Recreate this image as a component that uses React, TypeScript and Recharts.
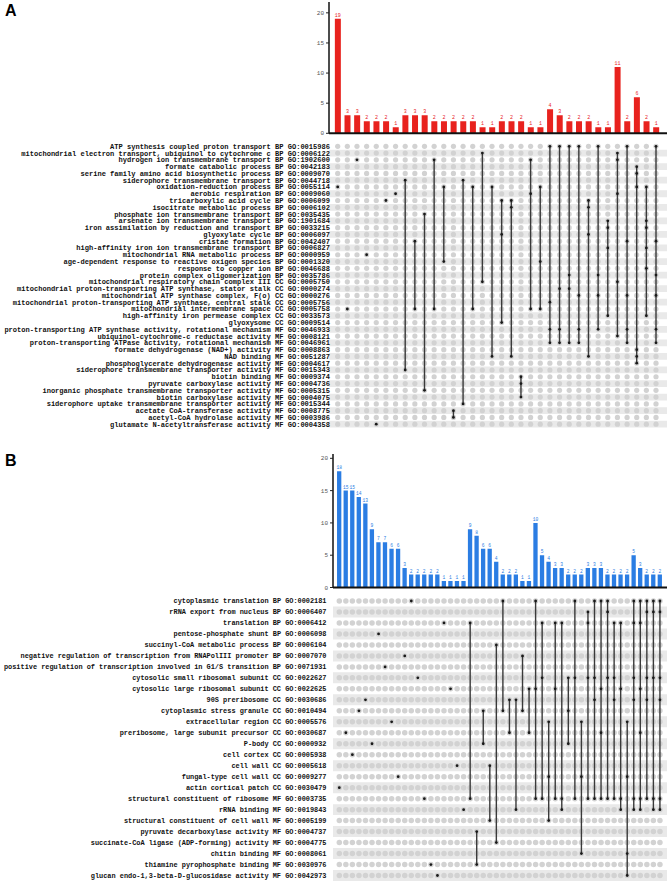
import React from 'react';
import { BarChart, Bar, XAxis, YAxis, ScatterChart, Scatter, ReferenceArea, LabelList } from 'recharts';

// ---------- Panel A ----------
const termsA = [
  'ATP synthesis coupled proton transport BP GO:0015986',
  'mitochondrial electron transport, ubiquinol to cytochrome c BP GO:0006122',
  'hydrogen ion transmembrane transport BP GO:1902600',
  'formate catabolic process BP GO:0042183',
  'serine family amino acid biosynthetic process BP GO:0009070',
  'siderophore transmembrane transport BP GO:0044718',
  'oxidation-reduction process BP GO:0055114',
  'aerobic respiration BP GO:0009060',
  'tricarboxylic acid cycle BP GO:0006099',
  'isocitrate metabolic process BP GO:0006102',
  'phosphate ion transmembrane transport BP GO:0035435',
  'arsenate ion transmembrane transport BP GO:1901684',
  'iron assimilation by reduction and transport BP GO:0033215',
  'glyoxylate cycle BP GO:0006097',
  'cristae formation BP GO:0042407',
  'high-affinity iron ion transmembrane transport BP GO:0006827',
  'mitochondrial RNA metabolic process BP GO:0000959',
  'age-dependent response to reactive oxigen species BP GO:0001320',
  'response to copper ion BP GO:0046688',
  'protein complex oligomerization BP GO:0035786',
  'mitochondrial respiratory chain complex III CC GO:0005750',
  'mitochondrial proton-transporting ATP synthase, stator stalk CC GO:0000274',
  'mitochondrial ATP synthase complex, F(o) CC GO:0000276',
  'mitochondrial proton-transporting ATP synthase, central stalk CC GO:0005756',
  'mitochondrial intermembrane space CC GO:0005758',
  'high-affinity iron permease complex CC GO:0033573',
  'glyoxysome CC GO:0009514',
  'proton-transporting ATP synthase activity, rotational mechanism MF GO:0046933',
  'ubiquinol-cytochrome-c reductase activity MF GO:0008121',
  'proton-transporting ATPase activity, rotational mechanism MF GO:0046961',
  'formate dehydrogenase (NAD+) activity MF GO:0008863',
  'NAD binding MF GO:0051287',
  'phosphoglycerate dehydrogenase activity MF GO:0004617',
  'siderophore transmembrane transporter activity MF GO:0015343',
  'biotin binding MF GO:0009374',
  'pyruvate carboxylase activity MF GO:0004736',
  'inorganic phosphate transmembrane transporter activity MF GO:0005315',
  'biotin carboxylase activity MF GO:0004075',
  'siderophore uptake transmembrane transporter activity MF GO:0015344',
  'acetate CoA-transferase activity MF GO:0008775',
  'acetyl-CoA hydrolase activity MF GO:0003986',
  'glutamate N-acetyltransferase activity MF GO:0004358',
];

const countsA = [19, 3, 3, 2, 2, 2, 1, 3, 3, 3, 2, 2, 2, 2, 2, 1, 1, 2, 2, 2, 1, 1, 4, 3, 2, 2, 2, 1, 1, 11, 2, 6, 2, 1];

const setsA = [
  [7], [25], [3], [17], [42], [9], [8],
  [6, 34], [15, 25], [11, 37], [3, 25], [7, 18], [40, 41], [6, 39], [7, 25], [2, 21], [7, 32],
  [9, 14, 27], [9, 10, 32], [35, 36, 38], [3, 8, 25], [7, 18, 25],
  [1, 24, 28, 30], [1, 22, 28, 30], [1, 20, 22, 30], [1, 23, 28, 30], [9, 10, 14, 32], [1, 20, 23, 28], [12, 13, 16, 26],
  [2, 3, 8, 21, 29], [1, 15, 23, 28, 30],
  [4, 5, 7, 31, 32, 33], [7, 12, 13, 16, 19, 26], [1, 15, 20, 23, 28, 30],
];

// ---------- Panel B ----------
const termsB = [
  'cytoplasmic translation BP GO:0002181',
  'rRNA export from nucleus BP GO:0006407',
  'translation BP GO:0006412',
  'pentose-phosphate shunt BP GO:0006098',
  'succinyl-CoA metabolic process BP GO:0006104',
  'negative regulation of transcription from RNAPolIII promoter BP GO:0007070',
  'positive regulation of transcription involved in G1/S transition BP GO:0071931',
  'cytosolic small ribosomal subunit CC GO:0022627',
  'cytosolic large ribosomal subunit CC GO:0022625',
  '90S preribosome CC GO:0030686',
  'cytoplasmic stress granule CC GO:0010494',
  'extracellular region CC GO:0005576',
  'preribosome, large subunit precursor CC GO:0030687',
  'P-body CC GO:0000932',
  'cell cortex CC GO:0005938',
  'cell wall CC GO:0005618',
  'fungal-type cell wall CC GO:0009277',
  'actin cortical patch CC GO:0030479',
  'structural constituent of ribosome MF GO:0003735',
  'rRNA binding MF GO:0019843',
  'structural constituent of cell wall MF GO:0005199',
  'pyruvate decarboxylase activity MF GO:0004737',
  'succinate-CoA ligase (ADP-forming) activity MF GO:0004775',
  'chitin binding MF GO:0008061',
  'thiamine pyrophosphate binding MF GO:0030976',
  'glucan endo-1,3-beta-D-glucosidase activity MF GO:0042973',
];

const countsB = [
  18, 15, 15, 14, 13, 9, 7, 7, 6, 6, 3, 2, 2, 2, 2, 2, 1, 1, 1, 1,
  9, 8, 6, 6, 4, 2, 2, 2, 1, 1,
  10, 5, 4, 3, 3, 2, 2, 2,
  3, 3, 3, 2, 2, 2, 2,
  5, 3, 2, 2, 2,
];

const setsB = [
  [18], [13], [15], [11], [10], [14], [4], [7], [12], [17], [6], [1], [8], [19], [25], [26], [3], [9], [16], [20],
  [3, 19], [22, 25], [11, 14], [16, 21], [5, 23], [1, 11], [10, 13], [10, 20], [6, 11], [9, 13],
  [1, 9, 19], [3, 8, 19], [12, 17, 21], [3, 9, 19], [3, 19, 20], [8, 11, 14], [1, 8, 19], [12, 17, 24],
  [2, 3, 8, 19], [1, 8, 10, 19], [1, 9, 13, 19], [1, 2, 8, 19], [3, 8, 10, 19], [3, 9, 19, 20], [12, 17, 24, 26],
  [1, 3, 8, 10, 19, 20], [1, 3, 9, 13, 19, 20], [1, 2, 8, 10, 19], [1, 2, 8, 19, 20], [1, 2, 8, 10, 19, 20],
];

const barTicks = [0, 5, 10, 15, 20];

const MONO = '"Liberation Mono", "DejaVu Sans Mono", monospace';
const W = 667;

type BarsProps = {
  counts: number[];
  color: string;
  top: number;
  height: number;
  marginTop: number;
  axisHeight: number;
  yAxisWidth: number;
  xDomain: [number, number];
  yMax: number;
  barSize: number;
  labelSize: number;
};

function Bars(p: BarsProps) {
  const data = p.counts.map((v, i) => ({ x: i, v }));
  return (
    <div style={{ position: 'absolute', left: 0, top: p.top }}>
      <BarChart width={W} height={p.height} data={data} margin={{ top: p.marginTop, right: 0, bottom: 0, left: 0 }}>
        <XAxis
          type="number"
          dataKey="x"
          domain={p.xDomain}
          allowDataOverflow
          tick={false}
          tickLine={false}
          height={p.axisHeight}
          axisLine={{ stroke: '#111', strokeWidth: 2 }}
        />
        <YAxis
          type="number"
          domain={[0, p.yMax]}
          allowDataOverflow
          ticks={barTicks}
          interval={0}
          width={p.yAxisWidth}
          tick={{ fontSize: 6, fill: '#555', fontFamily: MONO }}
          tickSize={3}
          tickMargin={2}
          tickLine={{ stroke: '#222' }}
          axisLine={{ stroke: '#111', strokeWidth: 1.5 }}
        />
        <Bar dataKey="v" fill={p.color} barSize={p.barSize} isAnimationActive={false}>
          <LabelList dataKey="v" position="top" offset={2} fontSize={p.labelSize} fill={p.color} fontFamily={MONO} />
        </Bar>
      </BarChart>
    </div>
  );
}

type MatrixProps = {
  terms: string[];
  sets: number[][];
  top: number;
  height: number;
  marginTop: number;
  marginBottom: number;
  yAxisWidth: number;
  xDomain: [number, number];
  dotR: number;
  fontSize: number;
  labelDx: number;
};

function Matrix(p: MatrixProps) {
  const nRows = p.terms.length;
  const rowIdx = p.terms.map((_, i) => i + 1);
  const yDomain: [number, number] = [0.5, nRows + 0.5];
  const grid: { x: number; y: number }[] = [];
  p.sets.forEach((_, c) => rowIdx.forEach((r) => grid.push({ x: c, y: r })));
  const bandRows = rowIdx.filter((r) => r % 2 === 0);
  const margin = { top: p.marginTop, right: 0, bottom: p.marginBottom, left: 0 };

  const renderTick = (props: any) => {
    const { x, y, payload } = props;
    return (
      <text
        x={x + p.labelDx}
        y={y}
        dy="0.35em"
        textAnchor="end"
        fontSize={p.fontSize}
        fontWeight={700}
        fontFamily={MONO}
        fill="#111"
      >
        {p.terms[payload.value - 1]}
      </text>
    );
  };

  const greyShape = (s: any) => <circle cx={s.cx} cy={s.cy} r={p.dotR} fill="#d2d2d2" />;
  const blackShape = (s: any) => <circle cx={s.cx} cy={s.cy} r={1.4} fill="#1a1a1a" />;

  return (
    <>
      <div style={{ position: 'absolute', left: 0, top: p.top }}>
        <ScatterChart width={W} height={p.height} margin={margin}>
          <XAxis type="number" dataKey="x" domain={p.xDomain} allowDataOverflow hide />
          <YAxis
            type="number"
            dataKey="y"
            domain={yDomain}
            reversed
            allowDataOverflow
            width={p.yAxisWidth}
            ticks={rowIdx}
            interval={0}
            axisLine={false}
            tickLine={false}
            tick={false}
          />
          {bandRows.map((r) => (
            <ReferenceArea
              key={r}
              x1={p.xDomain[0]}
              x2={p.xDomain[1]}
              y1={r - 0.5}
              y2={r + 0.5}
              fill="#e9e9e9"
              fillOpacity={1}
              stroke="none"
            />
          ))}
        </ScatterChart>
      </div>
      <div style={{ position: 'absolute', left: 0, top: p.top }}>
        <ScatterChart width={W} height={p.height} margin={margin}>
          <XAxis type="number" dataKey="x" domain={p.xDomain} allowDataOverflow hide />
          <YAxis
            type="number"
            dataKey="y"
            domain={yDomain}
            reversed
            allowDataOverflow
            width={p.yAxisWidth}
            ticks={rowIdx}
            interval={0}
            axisLine={false}
            tickLine={false}
            tickSize={0}
            tickMargin={0}
            tick={renderTick}
          />
          <Scatter data={grid} shape={greyShape} isAnimationActive={false} />
          {p.sets.map((rows, c) => (
            <Scatter
              key={c}
              data={[...rows].sort((a, b) => a - b).map((r) => ({ x: c, y: r }))}
              shape={blackShape}
              line={{ stroke: '#3a3a3a', strokeWidth: 1.4 }}
              lineType="joint"
              isAnimationActive={false}
            />
          ))}
        </ScatterChart>
      </div>
    </>
  );
}

export default function App() {
  return (
    <div style={{ position: 'absolute', left: 0, top: 0, width: W, height: 881, background: '#fff', overflow: 'hidden' }}>
      <div style={{ position: 'absolute', left: 5, top: 2, fontFamily: '"Liberation Sans", Arial, sans-serif', fontWeight: 700, fontSize: 16 }}>A</div>
      <div style={{ position: 'absolute', left: 5, top: 452, fontFamily: '"Liberation Sans", Arial, sans-serif', fontWeight: 700, fontSize: 16 }}>B</div>

      <Bars
        counts={countsA}
        color="#e8221e"
        top={0}
        height={145}
        marginTop={2}
        axisHeight={11.7}
        yAxisWidth={329}
        xDomain={[-0.9, 34.14]}
        yMax={21.8}
        barSize={6}
        labelSize={5}
      />
      <Matrix
        terms={termsA}
        sets={setsA}
        top={140}
        height={290}
        marginTop={2.9}
        marginBottom={2.4}
        yAxisWidth={329}
        xDomain={[-0.9, 34.14]}
        dotR={2.6}
        fontSize={7.05}
        labelDx={1}
      />

      <Bars
        counts={countsB}
        color="#2b7de3"
        top={440}
        height={156}
        marginTop={14}
        axisHeight={8.5}
        yAxisWidth={333}
        xDomain={[-0.963, 50.08]}
        yMax={20.67}
        barSize={4.3}
        labelSize={4.6}
      />
      <Matrix
        terms={termsB}
        sets={setsB}
        top={590}
        height={291}
        marginTop={5.5}
        marginBottom={0}
        yAxisWidth={333}
        xDomain={[-0.963, 50.08]}
        dotR={2.75}
        fontSize={6.9}
        labelDx={-6.5}
      />
    </div>
  );
}
